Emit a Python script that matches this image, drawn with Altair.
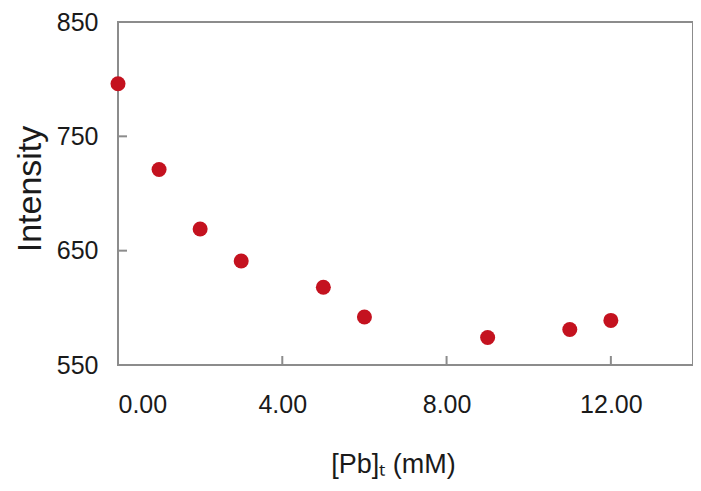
import altair as alt
import pandas as pd

# data
conc = [0, 1, 2, 3, 5, 6, 9, 11, 12]
intensity = [796, 721, 669, 641, 618, 592, 574, 581, 589]
x_ticks = [0, 4, 8, 12]
y_ticks = [550, 650, 750, 850]

W, H = 575, 343
GREY = "#8c8c8c"
RED = "#c4121f"
FONT = "Liberation Sans"

df = pd.DataFrame({"conc": conc, "intensity": intensity})
x_scale = alt.Scale(domain=[0, 14], nice=False, zero=False)
y_scale = alt.Scale(domain=[550, 850], nice=False, zero=False)

x_axis = alt.Axis(
    values=x_ticks,
    format=".2f",
    title="[Pb]ₜ (mM)",
    labelPadding=27,
    titleX=275,
    titleY=107,
    titleAlign="center",
    titleBaseline="alphabetic",
)
y_axis = alt.Axis(
    values=y_ticks,
    format="d",
    title="Intensity",
    labelPadding=20,
    titleX=-78,
    titleY=H / 2 - 5,
    titleAngle=270,
    titleAlign="center",
    titleBaseline="alphabetic",
    titleFontSize=34,
)

points = alt.Chart(df).mark_circle(size=225, color=RED, opacity=1).encode(
    x=alt.X("conc:Q", scale=x_scale, axis=x_axis),
    y=alt.Y("intensity:Q", scale=y_scale, axis=y_axis),
)

xt = alt.Chart(pd.DataFrame({"t": x_ticks})).mark_rule(color=GREY, strokeWidth=2).encode(
    x=alt.X("t:Q", scale=x_scale, axis=x_axis),
    y=alt.value(H),
    y2=alt.value(H - 9),
)
yt = alt.Chart(pd.DataFrame({"v": y_ticks})).mark_rule(color=GREY, strokeWidth=2).encode(
    y=alt.Y("v:Q", scale=y_scale, axis=y_axis),
    x=alt.value(0),
    x2=alt.value(9),
)

chart = (
    alt.layer(xt, yt, points)
    .properties(
        width=W,
        height=H,
        padding={"left": 110, "top": 14, "right": 0, "bottom": 118},
        autosize=alt.AutoSizeParams(type="none"),
    )
    .configure_view(stroke=GREY, strokeWidth=2)
    .configure_axis(
        ticks=False,
        domain=False,
        grid=False,
        labelFont=FONT,
        labelFontSize=25,
        labelColor="#1a1a1a",
        titleFont=FONT,
        titleFontSize=27,
        titleFontWeight="normal",
        titleColor="#1a1a1a",
    )
)

chart.save("out.html", embed_options={"renderer": "svg", "actions": False})
